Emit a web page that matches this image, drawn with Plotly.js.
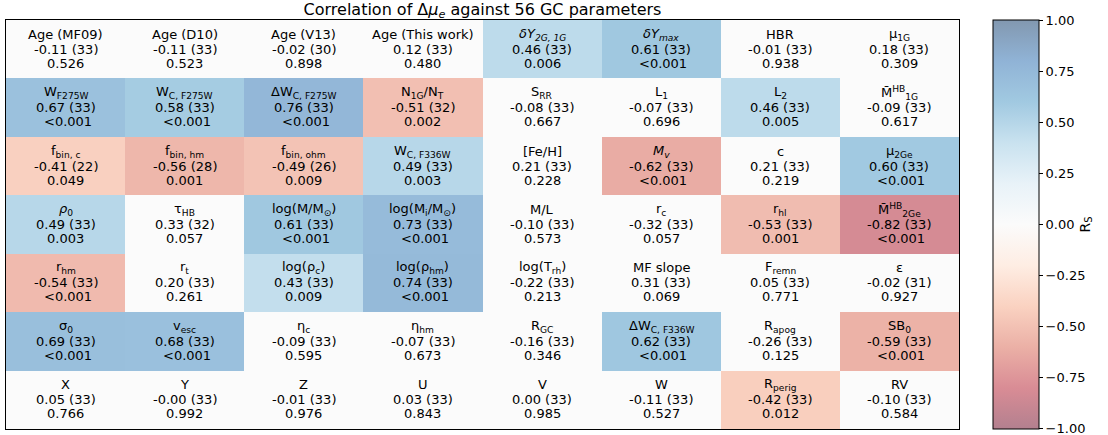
<!DOCTYPE html>
<html>
<head>
<meta charset="utf-8">
<script src="https://cdn.plot.ly/plotly-3.0.1.min.js"></script>
<style>html,body{margin:0;padding:0;background:#fff;}#chart{width:1108px;height:435px;}</style>
</head>
<body>
<div id="chart"></div>
<script>
// ---- data ----
const names = [
  ["Age (MF09)", "Age (D10)", "Age (V13)", "Age (This work)", "<i>δY</i><sub><i>2G, 1G</i></sub>", "<i>δY</i><sub><i>max</i></sub>", "HBR", "μ<sub>1G</sub>"],
  ["W<sub>F275W</sub>", "W<sub>C, F275W</sub>", "ΔW<sub>C, F275W</sub>", "N<sub>1G</sub>/N<sub>T</sub>", "S<sub>RR</sub>", "L<sub>1</sub>", "L<sub>2</sub>", "M̄<sup>HB</sup><sub>1G</sub>"],
  ["f<sub>bin, c</sub>", "f<sub>bin, hm</sub>", "f<sub>bin, ohm</sub>", "W<sub>C, F336W</sub>", "[Fe/H]", "<i>M</i><sub><i>v</i></sub>", "c", "μ<sub>2Ge</sub>"],
  ["<i>ρ</i><sub>0</sub>", "τ<sub>HB</sub>", "log(M/M<sub>⊙</sub>)", "log(M<sub>i</sub>/M<sub>⊙</sub>)", "M/L", "r<sub>c</sub>", "r<sub>hl</sub>", "M̄<sup>HB</sup><sub>2Ge</sub>"],
  ["r<sub>hm</sub>", "r<sub>t</sub>", "log(ρ<sub>c</sub>)", "log(ρ<sub>hm</sub>)", "log(T<sub>rh</sub>)", "MF slope", "F<sub>remn</sub>", "ε"],
  ["σ<sub>0</sub>", "v<sub>esc</sub>", "η<sub>c</sub>", "η<sub>hm</sub>", "R<sub>GC</sub>", "ΔW<sub>C, F336W</sub>", "R<sub>apog</sub>", "SB<sub>0</sub>"],
  ["X", "Y", "Z", "U", "V", "W", "R<sub>perig</sub>", "RV"]
];
const rs = [
  [-0.11, -0.11, -0.02, 0.12, 0.46, 0.61, -0.01, 0.18],
  [0.67, 0.58, 0.76, -0.51, -0.08, -0.07, 0.46, -0.09],
  [-0.41, -0.56, -0.49, 0.49, 0.21, -0.62, 0.21, 0.60],
  [0.49, 0.33, 0.61, 0.73, -0.10, -0.32, -0.53, -0.82],
  [-0.54, 0.20, 0.43, 0.74, -0.22, 0.31, 0.05, -0.02],
  [0.69, 0.68, -0.09, -0.07, -0.16, 0.62, -0.26, -0.59],
  [0.05, -0.00, -0.01, 0.03, 0.00, -0.11, -0.42, -0.10]
];
const nobj = [
  [33, 33, 30, 33, 33, 33, 33, 33],
  [33, 33, 33, 32, 33, 33, 33, 33],
  [22, 28, 26, 33, 33, 33, 33, 33],
  [33, 32, 33, 33, 33, 33, 33, 33],
  [33, 33, 33, 33, 33, 33, 33, 31],
  [33, 33, 33, 33, 33, 33, 33, 33],
  [33, 33, 33, 33, 33, 33, 33, 33]
];
const pval = [
  ["0.526", "0.523", "0.898", "0.480", "0.006", "<0.001", "0.938", "0.309"],
  ["<0.001", "<0.001", "<0.001", "0.002", "0.667", "0.696", "0.005", "0.617"],
  ["0.049", "0.001", "0.009", "0.003", "0.228", "<0.001", "0.219", "<0.001"],
  ["0.003", "0.057", "<0.001", "<0.001", "0.573", "0.057", "0.001", "<0.001"],
  ["<0.001", "0.261", "0.009", "<0.001", "0.213", "0.069", "0.771", "0.927"],
  ["<0.001", "<0.001", "0.595", "0.673", "0.346", "<0.001", "0.125", "<0.001"],
  ["0.766", "0.992", "0.976", "0.843", "0.985", "0.527", "0.012", "0.584"]
];
const colIdx = [0, 1, 2, 3, 4, 5, 6, 7];
const rowIdx = [0, 1, 2, 3, 4, 5, 6];
const pThreshold = 0.05;
const cbTicks = [-1, -0.75, -0.5, -0.25, 0, 0.25, 0.5, 0.75, 1];

// ---- colour scale: matplotlib RdBu at alpha 0.5 over white ----
const rdbu = ["#67001f","#b2182b","#d6604d","#f4a582","#fddbc7","#f7f7f7","#d1e5f0","#92c5de","#4393c3","#2166ac","#053061"];
function blend(hex, a) {
  const r = parseInt(hex.slice(1,3),16), g = parseInt(hex.slice(3,5),16), b = parseInt(hex.slice(5,7),16);
  const f = c => Math.round(c*a + 255*(1-a));
  return `rgb(${f(r)},${f(g)},${f(b)})`;
}
const colorscale = rdbu.map((c, i) => [i/(rdbu.length-1), blend(c, 0.5)]);

const pNum = s => s.startsWith("<") ? 0.0005 : parseFloat(s);
const z = rs.map((row, i) => row.map((v, j) => pNum(pval[i][j]) < pThreshold ? v : 0));

const fmt = v => (v < 0 ? "-" : "") + Math.abs(v).toFixed(2);
const rsText = rs.map((row, i) => row.map((v, j) => (i === 6 && j === 1) ? "-0.00" : fmt(v)));

const annotations = [];
const font = {family: "DejaVu Sans, sans-serif", size: 13, color: "#000"};
rowIdx.forEach(i => colIdx.forEach(j => {
  annotations.push({x: j, y: i, xref: "x", yref: "y", text: names[i][j], showarrow: false, font, yshift: 15, yanchor: "middle"});
  annotations.push({x: j, y: i, xref: "x", yref: "y", text: `${rsText[i][j]} (${nobj[i][j]})`, showarrow: false, font, yshift: 0, yanchor: "middle"});
  annotations.push({x: j, y: i, xref: "x", yref: "y", text: pval[i][j], showarrow: false, font, yshift: -14, xshift: pval[i][j].startsWith("<") ? 2 : 0, yanchor: "middle"});
}));

const trace = {
  type: "heatmap",
  x: colIdx, y: rowIdx, z: z,
  zmin: -1.0008, zmax: 1.0008,
  colorscale: colorscale,
  hoverinfo: "skip",
  colorbar: {
    x: 1.0357, xanchor: "left", xpad: 0,
    y: 0.5, yanchor: "middle", len: 1.0, lenmode: "fraction", ypad: 0,
    thickness: 46, thicknessmode: "pixels",
    outlinecolor: "#000", outlinewidth: 1,
    ticks: "outside", ticklen: 4, tickcolor: "#000",
    ticklabeloverflow: "allow",
    tickmode: "array",
    tickvals: cbTicks,
    ticktext: cbTicks.map(v => (v < 0 ? "−" : "") + Math.abs(v).toFixed(2)),
    tickfont: {family: "DejaVu Sans, sans-serif", size: 13, color: "#000"},
    title: {text: "R<sub>S</sub>", side: "right", font: {family: "DejaVu Sans, sans-serif", size: 14, color: "#000"}}
  }
};

const layout = {
  width: 1108, height: 435,
  margin: {l: 6, r: 149, t: 20, b: 6},
  paper_bgcolor: "#fff", plot_bgcolor: "#fff",
  title: {text: "Correlation of Δ<i>μ</i><sub><i>e</i></sub> against 56 GC parameters", x: 0.5, xref: "paper", xanchor: "center", y: 1, yref: "paper", yanchor: "bottom", pad: {b: 5},
    font: {family: "DejaVu Sans, sans-serif", size: 16, color: "#000"}},
  xaxis: {range: [-0.5, 7.5], showticklabels: false, ticks: "", showgrid: false, zeroline: false, showline: true, mirror: true, linecolor: "#000", linewidth: 1},
  yaxis: {range: [6.5, -0.5], showticklabels: false, ticks: "", showgrid: false, zeroline: false, showline: true, mirror: true, linecolor: "#000", linewidth: 1},
  annotations: annotations,
  showlegend: false
};

Plotly.newPlot("chart", [trace], layout, {displayModeBar: false, staticPlot: true});
</script>
</body>
</html>
